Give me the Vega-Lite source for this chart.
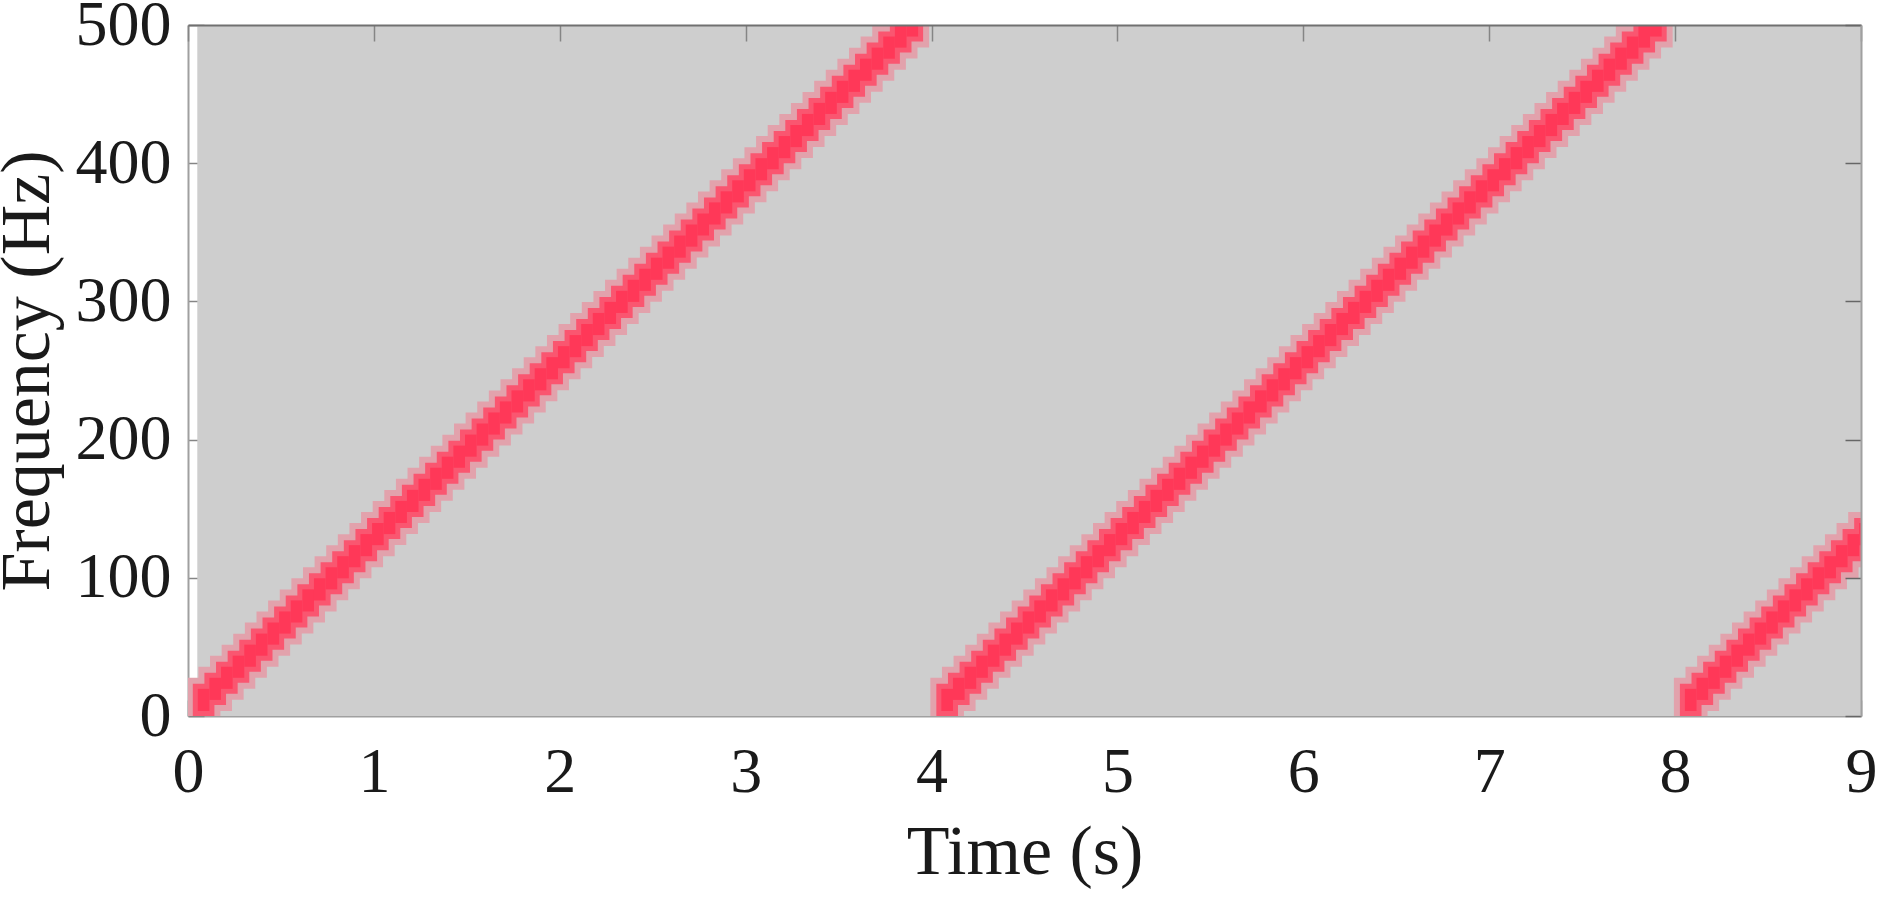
{
  "$schema": "https://vega.github.io/schema/vega-lite/v6.json",
  "width": 1673,
  "height": 691,
  "autosize": {"type": "none"},
  "padding": {"left": 188, "top": 25, "right": 23, "bottom": 183},
  "background": "white",
  "config": {
    "view": {"stroke": null},
    "axis": {
      "grid": false,
      "format": "d",
      "labelFont": "Liberation Serif",
      "labelFontSize": 64,
      "labelColor": "#1a1a1a",
      "labelFlush": false,
      "labelOverlap": false,
      "titleFont": "Liberation Serif",
      "titleFontSize": 70,
      "titleFontWeight": "normal",
      "titleColor": "#1a1a1a",
      "tickSize": -16,
      "tickColor": "#858585",
      "tickWidth": 1.5,
      "domainColor": "#a0a0a0",
      "domainWidth": 2
    }
  },
  "datasets": {
    "bg": [{"t0": 0.05, "t1": 9, "f0": 0, "f1": 500}],
    "ridge": [
      {"t": 0.05, "f": 4}, {"t": 0.1125, "f": 12}, {"t": 0.175, "f": 20}, {"t": 0.2375, "f": 28},
      {"t": 0.3, "f": 36}, {"t": 0.3625, "f": 44}, {"t": 0.425, "f": 52}, {"t": 0.4875, "f": 60},
      {"t": 0.55, "f": 68}, {"t": 0.6125, "f": 76}, {"t": 0.675, "f": 84}, {"t": 0.7375, "f": 92},
      {"t": 0.8, "f": 100}, {"t": 0.8625, "f": 108}, {"t": 0.925, "f": 116}, {"t": 0.9875, "f": 124},
      {"t": 1.05, "f": 132}, {"t": 1.1125, "f": 140}, {"t": 1.175, "f": 148}, {"t": 1.2375, "f": 156},
      {"t": 1.3, "f": 164}, {"t": 1.3625, "f": 172}, {"t": 1.425, "f": 180}, {"t": 1.4875, "f": 188},
      {"t": 1.55, "f": 196}, {"t": 1.6125, "f": 204}, {"t": 1.675, "f": 212}, {"t": 1.7375, "f": 220},
      {"t": 1.8, "f": 228}, {"t": 1.8625, "f": 236}, {"t": 1.925, "f": 244}, {"t": 1.9875, "f": 252},
      {"t": 2.05, "f": 260}, {"t": 2.1125, "f": 268}, {"t": 2.175, "f": 276}, {"t": 2.2375, "f": 284},
      {"t": 2.3, "f": 292}, {"t": 2.3625, "f": 300}, {"t": 2.425, "f": 308}, {"t": 2.4875, "f": 316},
      {"t": 2.55, "f": 324}, {"t": 2.6125, "f": 332}, {"t": 2.675, "f": 340}, {"t": 2.7375, "f": 348},
      {"t": 2.8, "f": 356}, {"t": 2.8625, "f": 364}, {"t": 2.925, "f": 372}, {"t": 2.9875, "f": 380},
      {"t": 3.05, "f": 388}, {"t": 3.1125, "f": 396}, {"t": 3.175, "f": 404}, {"t": 3.2375, "f": 412},
      {"t": 3.3, "f": 420}, {"t": 3.3625, "f": 428}, {"t": 3.425, "f": 436}, {"t": 3.4875, "f": 444},
      {"t": 3.55, "f": 452}, {"t": 3.6125, "f": 460}, {"t": 3.675, "f": 468}, {"t": 3.7375, "f": 476},
      {"t": 3.8, "f": 484}, {"t": 3.8625, "f": 492},
      {"t": 4.05, "f": 4}, {"t": 4.1125, "f": 12}, {"t": 4.175, "f": 20}, {"t": 4.2375, "f": 28},
      {"t": 4.3, "f": 36}, {"t": 4.3625, "f": 44}, {"t": 4.425, "f": 52}, {"t": 4.4875, "f": 60},
      {"t": 4.55, "f": 68}, {"t": 4.6125, "f": 76}, {"t": 4.675, "f": 84}, {"t": 4.7375, "f": 92},
      {"t": 4.8, "f": 100}, {"t": 4.8625, "f": 108}, {"t": 4.925, "f": 116}, {"t": 4.9875, "f": 124},
      {"t": 5.05, "f": 132}, {"t": 5.1125, "f": 140}, {"t": 5.175, "f": 148}, {"t": 5.2375, "f": 156},
      {"t": 5.3, "f": 164}, {"t": 5.3625, "f": 172}, {"t": 5.425, "f": 180}, {"t": 5.4875, "f": 188},
      {"t": 5.55, "f": 196}, {"t": 5.6125, "f": 204}, {"t": 5.675, "f": 212}, {"t": 5.7375, "f": 220},
      {"t": 5.8, "f": 228}, {"t": 5.8625, "f": 236}, {"t": 5.925, "f": 244}, {"t": 5.9875, "f": 252},
      {"t": 6.05, "f": 260}, {"t": 6.1125, "f": 268}, {"t": 6.175, "f": 276}, {"t": 6.2375, "f": 284},
      {"t": 6.3, "f": 292}, {"t": 6.3625, "f": 300}, {"t": 6.425, "f": 308}, {"t": 6.4875, "f": 316},
      {"t": 6.55, "f": 324}, {"t": 6.6125, "f": 332}, {"t": 6.675, "f": 340}, {"t": 6.7375, "f": 348},
      {"t": 6.8, "f": 356}, {"t": 6.8625, "f": 364}, {"t": 6.925, "f": 372}, {"t": 6.9875, "f": 380},
      {"t": 7.05, "f": 388}, {"t": 7.1125, "f": 396}, {"t": 7.175, "f": 404}, {"t": 7.2375, "f": 412},
      {"t": 7.3, "f": 420}, {"t": 7.3625, "f": 428}, {"t": 7.425, "f": 436}, {"t": 7.4875, "f": 444},
      {"t": 7.55, "f": 452}, {"t": 7.6125, "f": 460}, {"t": 7.675, "f": 468}, {"t": 7.7375, "f": 476},
      {"t": 7.8, "f": 484}, {"t": 7.8625, "f": 492},
      {"t": 8.05, "f": 4}, {"t": 8.1125, "f": 12}, {"t": 8.175, "f": 20}, {"t": 8.2375, "f": 28},
      {"t": 8.3, "f": 36}, {"t": 8.3625, "f": 44}, {"t": 8.425, "f": 52}, {"t": 8.4875, "f": 60},
      {"t": 8.55, "f": 68}, {"t": 8.6125, "f": 76}, {"t": 8.675, "f": 84}, {"t": 8.7375, "f": 92},
      {"t": 8.8, "f": 100}, {"t": 8.8625, "f": 108}, {"t": 8.925, "f": 116}, {"t": 8.9875, "f": 124}
    ]
  },
  "layer": [
    {
      "data": {"name": "bg"},
      "mark": {"type": "rect", "color": "#cecece", "clip": true},
      "encoding": {
        "x": {
          "field": "t0", "type": "quantitative",
          "scale": {"domain": [0, 9], "nice": false, "zero": false},
          "axis": {
            "orient": "bottom", "values": [0, 1, 2, 3, 4, 5, 6, 7, 8, 9],
            "title": "Time (s)", "labelPadding": 40, "titlePadding": 14
          }
        },
        "x2": {"field": "t1"},
        "y": {
          "field": "f0", "type": "quantitative",
          "scale": {"domain": [0, 500], "nice": false},
          "axis": {
            "orient": "left", "values": [0, 100, 200, 300, 400, 500],
            "title": "Frequency (Hz)", "labelPadding": 33, "titlePadding": 12
          }
        },
        "y2": {"field": "f1"}
      }
    },
    {
      "data": {"name": "ridge"},
      "mark": {"type": "rect", "clip": true, "fill": "#e2a2ac", "stroke": "#e2a2ac", "strokeWidth": 22, "strokeJoin": "miter", "binSpacing": 0},
      "encoding": {
        "x": {
          "field": "t", "type": "quantitative", "bin": {"binned": true, "step": 0.0625},
          "axis": {"orient": "top", "values": [0, 1, 2, 3, 4, 5, 6, 7, 8, 9], "labels": false, "title": null, "domainColor": "#707070"}
        },
        "y": {
          "field": "f", "type": "quantitative", "bin": {"binned": true, "step": 16},
          "axis": {"orient": "right", "values": [0, 100, 200, 300, 400, 500], "labels": false, "title": null, "tickColor": "#666666"}
        }
      }
    },
    {
      "data": {"name": "ridge"},
      "mark": {"type": "rect", "clip": true, "fill": "#fa5670", "stroke": "#fa5670", "strokeWidth": 10, "strokeJoin": "miter", "binSpacing": 0},
      "encoding": {
        "x": {"field": "t", "type": "quantitative", "bin": {"binned": true, "step": 0.0625}, "axis": null},
        "y": {"field": "f", "type": "quantitative", "bin": {"binned": true, "step": 16}, "axis": null}
      }
    },
    {
      "data": {"name": "ridge"},
      "mark": {"type": "rect", "clip": true, "fill": "#ff3858", "binSpacing": 0},
      "encoding": {
        "x": {"field": "t", "type": "quantitative", "bin": {"binned": true, "step": 0.0625}, "axis": null},
        "y": {"field": "f", "type": "quantitative", "bin": {"binned": true, "step": 16}, "axis": null}
      }
    }
  ]
}
